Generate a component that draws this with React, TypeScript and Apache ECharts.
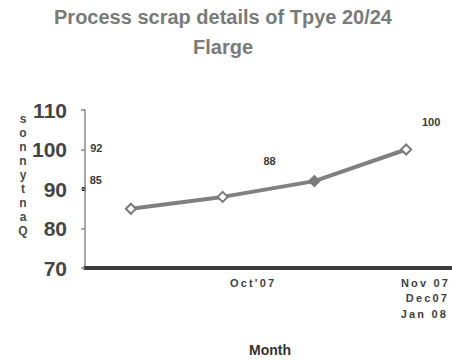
import React, { useEffect, useRef } from "react";
import * as echarts from "echarts";

const categories = ["Oct'07", "Nov 07", "Dec07", "Jan 08"];
const values = [85, 88, 92, 100];
const labelOffsets: [number, number][] = [
  [-35, -29],
  [47, -36],
  [-218, -33],
  [25, -28],
];
const yTicks = { min: 70, max: 110, interval: 10 };
const titleLines = ["Process scrap details of Tpye 20/24", "Flarge"];
const yName = "sonnytnaQ";
const xName = "Month";
const catLabelPos: { x: number; y: number; align: string }[] = [
  { x: 252, y: 283, align: "center" },
  { x: 448, y: 283, align: "right" },
  { x: 447, y: 298, align: "right" },
  { x: 446, y: 314, align: "right" },
];

export default function App() {
  const ref = useRef<HTMLDivElement>(null);
  useEffect(() => {
    if (!ref.current) return;
    const chart = echarts.init(ref.current, null, { renderer: "svg" });
    chart.setOption({
      animation: false,
      backgroundColor: "#ffffff",
      title: {
        text: titleLines.join("\n"),
        left: 218,
        top: -3,
        textAlign: "center",
        textStyle: {
          fontFamily: "Liberation Sans, Arial, sans-serif",
          fontSize: 20,
          fontWeight: "bold",
          color: "#7a7a7a",
          lineHeight: 30,
        },
      },
      grid: { left: 85, right: 0, top: 110, bottom: 93 },
      xAxis: {
        type: "category",
        data: categories,
        boundaryGap: true,
        axisLine: { lineStyle: { color: "#3a3a3a", width: 4 } },
        axisTick: { show: false },
        axisLabel: { show: false },
        splitLine: { show: false },
      },
      yAxis: {
        type: "value",
        min: yTicks.min,
        max: yTicks.max,
        interval: yTicks.interval,
        axisLine: { show: true, lineStyle: { color: "#8a8a8a", width: 1.5 } },
        axisTick: { show: true, length: 4, lineStyle: { color: "#8a8a8a", width: 1.5 } },
        splitLine: { show: false },
        axisLabel: {
          margin: 18,
          fontFamily: "Liberation Sans, Arial, sans-serif",
          fontSize: 21,
          fontWeight: "bold",
          color: "#454545",
        },
      },
      series: [
        {
          type: "line",
          data: values.map((v, i) => ({
            value: v,
            itemStyle: i === 2 ? { color: "#7a7a7a" } : undefined,
            label: { offset: labelOffsets[i] },
          })),
          lineStyle: { color: "#808080", width: 4 },
          symbol: "diamond",
          symbolSize: 10,
          itemStyle: { color: "#ffffff", borderColor: "#7a7a7a", borderWidth: 2 },
          label: {
            show: true,
            position: "inside",
            fontFamily: "Liberation Sans, Arial, sans-serif",
            fontSize: 11,
            fontWeight: "bold",
            color: "#3a3a3a",
          },
        },
      ],
      graphic: [
        ...categories.map((c, i) => ({
          type: "text",
          x: catLabelPos[i].x,
          y: catLabelPos[i].y,
          style: {
            text: c.split("").join("\u2009"),
            fontFamily: "Liberation Sans, Arial, sans-serif",
            fontSize: 11,
            fontWeight: "bold",
            fill: "#3f3f3f",
            align: catLabelPos[i].align,
            verticalAlign: "middle",
          },
        })),
        {
          type: "text",
          x: 270,
          y: 350,
          style: {
            text: xName,
            fontFamily: "Liberation Sans, Arial, sans-serif",
            fontSize: 14,
            fontWeight: "bold",
            fill: "#333333",
            align: "center",
            verticalAlign: "middle",
          },
        },
        {
          type: "text",
          x: 23,
          y: 112,
          style: {
            text: yName.split("").join("\n"),
            fontFamily: "Liberation Sans, Arial, sans-serif",
            fontSize: 12,
            fontWeight: "bold",
            lineHeight: 14,
            fill: "#4a4a4a",
            align: "center",
            verticalAlign: "top",
          },
        },
        {
          type: "rect",
          shape: { x: 82, y: 187, width: 4, height: 4 },
          style: { fill: "#222" },
        },
      ],
    });
    return () => chart.dispose();
  }, []);
  return (
    <div
      ref={ref}
      style={{ position: "fixed", left: 0, top: 0, width: 452, height: 361 }}
    />
  );
}
